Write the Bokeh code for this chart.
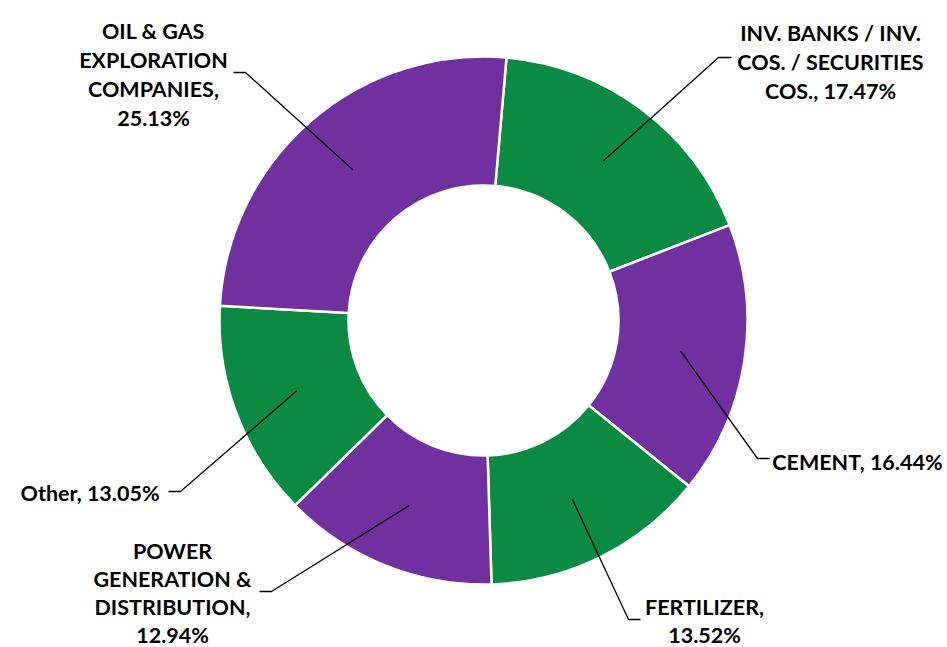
import math
from bokeh.plotting import figure
from bokeh.models import Range1d, ColumnDataSource
from bokeh.core.properties import value
from bokeh.embed import file_html
from bokeh.resources import INLINE

# ---- data ----
categories = ["INV. BANKS / INV. COS. / SECURITIES COS.", "CEMENT", "FERTILIZER",
              "POWER GENERATION & DISTRIBUTION", "Other", "OIL & GAS EXPLORATION COMPANIES"]
shares = [17.47, 16.44, 13.52, 12.94, 13.05, 25.13]
label_lines = [
    ["INV. BANKS / INV.", "COS. / SECURITIES", "COS., 17.47%"],
    ["CEMENT, 16.44%"],
    ["FERTILIZER,", "13.52%"],
    ["POWER", "GENERATION &", "DISTRIBUTION,", "12.94%"],
    ["Other, 13.05%"],
    ["OIL & GAS", "EXPLORATION", "COMPANIES,", "25.13%"],
]

# ---- layout / style ----
PURPLE = "#7030A0"
GREEN = "#0B8A43"
colors = [GREEN, PURPLE, GREEN, PURPLE, GREEN, PURPLE]
CX, CY = 483, 320            # centre in screen px
R_IN, R_OUT = 135, 264
START_DEG = 85.0
W, H = 947, 647
OX, OY = 0, 0                # screen offset of the figure

# elbow points (screen px) and horizontal tail direction
elbows = [(718, 57), (757, 458), (628, 619), (271, 591), (180, 491), (245, 72)]
tails = [13, 12, 12, -12, -12, -12]
# text anchors (screen px): (x, y of first line, align, line height)
text_pos = [(830, 32, "center", 29), (942, 461, "right", 29), (704, 606, "center", 28),
            (172, 550, "center", 28), (159, 492, "right", 29), (153, 30, "center", 29)]

def sx(x):
    return x - CX

def sy(y):
    return CY - y

p = figure(width=W, height=H, output_backend="svg", toolbar_location=None,
           x_range=Range1d(OX - CX, OX + W - CX), y_range=Range1d(CY - (OY + H), CY - OY),
           min_border=0)
p.axis.visible = False
p.grid.visible = False
p.outline_line_color = None

total = sum(shares)
starts, ends, mids = [], [], []
a = math.radians(START_DEG)
for s in shares:
    span = s / total * 2 * math.pi
    starts.append(a - span)
    ends.append(a)
    mids.append(a - span / 2)
    a -= span

src = ColumnDataSource(dict(start=starts, end=ends, color=colors))
p.annular_wedge(x=0, y=0, inner_radius=R_IN, outer_radius=R_OUT,
                start_angle="start", end_angle="end", fill_color="color",
                line_color="white", line_width=2.5, source=src)

r_mid = (R_IN + R_OUT) / 2
xs, ys = [], []
for m, (ex, ey), t in zip(mids, elbows, tails):
    x0, y0 = r_mid * math.cos(m), r_mid * math.sin(m)
    xs.append([x0, sx(ex), sx(ex) + t])
    ys.append([y0, sy(ey), sy(ey)])
p.multi_line(xs=xs, ys=ys, line_color="black", line_width=1.3)

tx, ty, tt, ta = [], [], [], []
for lines, (px, py, al, lh) in zip(label_lines, text_pos):
    for i, ln in enumerate(lines):
        tx.append(sx(px))
        ty.append(sy(py + i * lh))
        tt.append(ln)
        ta.append(al)
for al in ("left", "center", "right"):
    idx = [i for i in range(len(tt)) if ta[i] == al]
    p.text(x=[tx[i] for i in idx], y=[ty[i] for i in idx], text=[tt[i] for i in idx],
           text_font=value("Lato"), text_font_style="bold", text_font_size="21.5px",
           text_align=al, text_baseline="middle", text_color="black")

open("out.html", "w").write(file_html(p, INLINE))
